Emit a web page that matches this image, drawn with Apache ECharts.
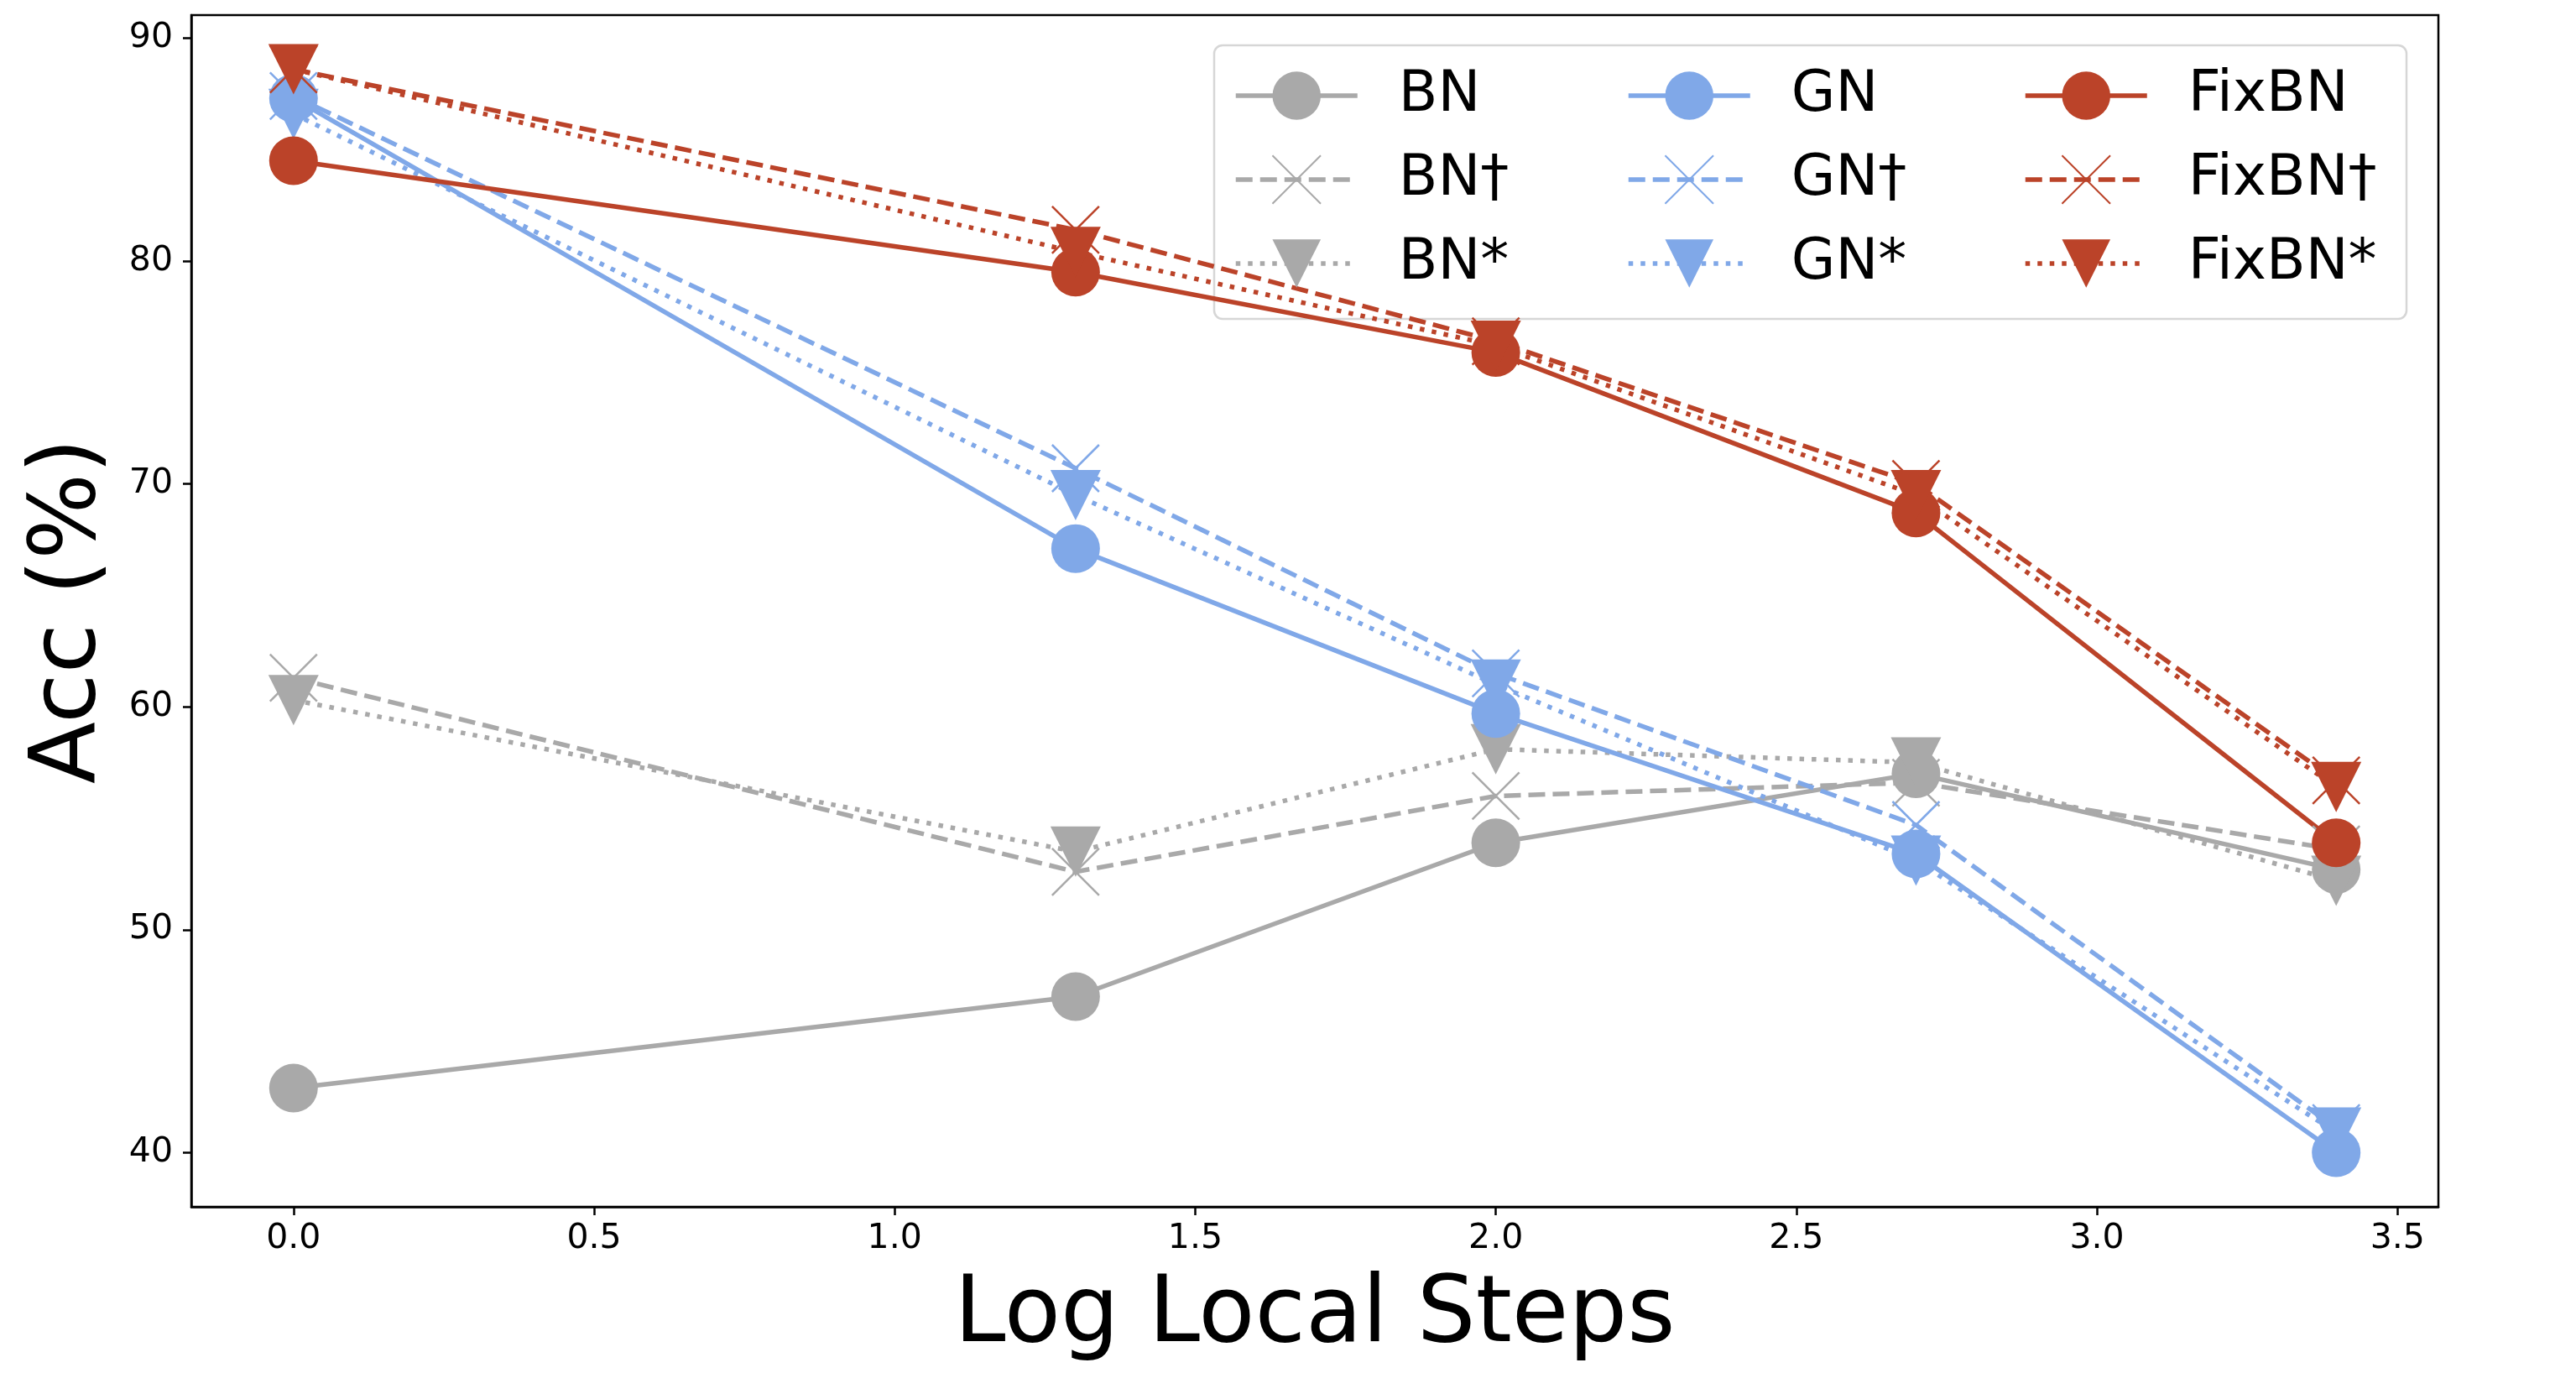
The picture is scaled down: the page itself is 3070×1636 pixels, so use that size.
<!DOCTYPE html>
<html>
<head>
<meta charset="utf-8">
<script src="https://cdn.jsdelivr.net/npm/echarts@6/dist/echarts.min.js"></script>
<style>
  html, body { margin: 0; padding: 0; background: #fff; }
  #chart { width: 3070px; height: 1636px; }
</style>
</head>
<body>
<div id="chart"></div>
<script>
// x positions: log10 of local steps
var xSteps = [0, 1.301, 2, 2.699, 3.398]
var xTicks = [0, 0.5, 1, 1.5, 2, 2.5, 3, 3.5]
var yTicks = [40, 50, 60, 70, 80, 90]

var bn = [42.9, 47.0, 53.9, 57.0, 52.7]
var bnDagger = [61.3, 52.6, 56.0, 56.6, 53.6]
var bnStar = [60.3, 53.5, 58.1, 57.5, 52.2]
var gn = [87.3, 67.1, 59.7, 53.4, 40.0]
var gnDagger = [87.4, 70.7, 61.5, 54.7, 41.1]
var gnStar = [86.6, 69.5, 61.0, 53.1, 40.9]
var fixbn = [84.5, 79.5, 75.9, 68.7, 53.9]
var fixbnDagger = [88.6, 81.4, 76.4, 70.0, 56.7]
var fixbnStar = [88.6, 80.4, 76.2, 69.5, 56.4]

var names = ['BN', 'BN†', 'BN*', 'GN', 'GN†', 'GN*', 'FixBN', 'FixBN†', 'FixBN*']
var values = [bn, bnDagger, bnStar, gn, gnDagger, gnStar, fixbn, fixbnDagger, fixbnStar]

var GRAY = '#a9a9a9'
var BLUE = '#80a8e8'
var RED = '#bb4329'
var FONT = 'DejaVu Sans'
var LW = 5.5

function makeSeries (i) {
  var color = [GRAY, BLUE, RED][Math.floor(i / 3)]
  var kind = i % 3
  var s = {
    name: names[i],
    type: 'line',
    data: xSteps.map(function (x, j) { return [x, values[i][j]] }),
    lineStyle: { color: color, width: LW, cap: 'butt' },
    itemStyle: { color: color },
    emphasis: { disabled: true },
    clip: false
  }
  if (kind === 0) {
    s.symbol = 'circle'
    s.symbolSize = 58
    s.lineStyle.type = 'solid'
  } else if (kind === 1) {
    s.symbol = 'path://M0,0L10,10M10,0L0,10'
    s.symbolSize = 56
    s.symbolKeepAspect = true
    s.itemStyle = { color: 'rgba(0,0,0,0)', borderColor: color, borderWidth: 2.5 }
    s.lineStyle.type = [20, 9]
  } else {
    s.symbol = 'triangle'
    s.symbolSize = [60, 60]
    s.symbolRotate = 180
    s.lineStyle.type = [5.5, 9]
  }
  return s
}

var series = names.map(function (n, i) { return makeSeries(i) })

function makeLegend (col, left) {
  return {
    orient: 'vertical',
    left: left,
    top: 80,
    padding: 0,
    itemWidth: 145,
    itemHeight: 72,
    itemGap: 32,
    data: names.slice(col * 3, col * 3 + 3),
    lineStyle: { width: LW },
    textStyle: { fontFamily: FONT, fontSize: 68, color: '#000', padding: [0, 0, 0, 44] },
    selectedMode: false
  }
}

var chart = echarts.init(document.getElementById('chart'))
var option = {
  animation: false,
  backgroundColor: '#fff',
  grid: {
    left: 228, top: 18, right: 164, bottom: 198,
    show: true, borderColor: '#000', borderWidth: 2.5, backgroundColor: 'transparent'
  },
  xAxis: {
    type: 'value',
    min: -0.17,
    max: 3.568,
    name: 'Log Local Steps',
    nameLocation: 'middle',
    nameGap: 76,
    nameTextStyle: { fontFamily: FONT, fontSize: 110, color: '#000' },
    axisLine: { onZero: false, lineStyle: { color: '#000', width: 2.5 } },
    axisTick: { show: true, length: 10, lineStyle: { color: '#000', width: 2.5 }, customValues: xTicks },
    axisLabel: {
      fontFamily: FONT, fontSize: 41, color: '#000', margin: 18,
      customValues: xTicks,
      formatter: function (v) { return v.toFixed(1) }
    },
    splitLine: { show: false }
  },
  yAxis: {
    type: 'value',
    min: 37.57,
    max: 91.03,
    name: 'Acc (%)',
    nameLocation: 'middle',
    nameGap: 90,
    nameTextStyle: { fontFamily: FONT, fontSize: 108, color: '#000' },
    axisLine: { show: true, onZero: false, lineStyle: { color: '#000', width: 2.5 } },
    axisTick: { show: true, length: 10, lineStyle: { color: '#000', width: 2.5 }, customValues: yTicks },
    axisLabel: {
      fontFamily: FONT, fontSize: 41, color: '#000', margin: 22,
      padding: [10, 0, 0, 0],
      customValues: yTicks,
      formatter: function (v) { return String(Math.round(v)) }
    },
    splitLine: { show: false }
  },
  legend: [makeLegend(0, 1470), makeLegend(1, 1938), makeLegend(2, 2411)],
  graphic: [{
    type: 'rect',
    z: 3,
    shape: { x: 1447, y: 54, width: 1421, height: 326, r: 10 },
    style: { fill: 'rgba(255,255,255,0.8)', stroke: '#d6d6d6', lineWidth: 2.5 }
  }],
  series: series
}
chart.setOption(option)
</script>
</body>
</html>
